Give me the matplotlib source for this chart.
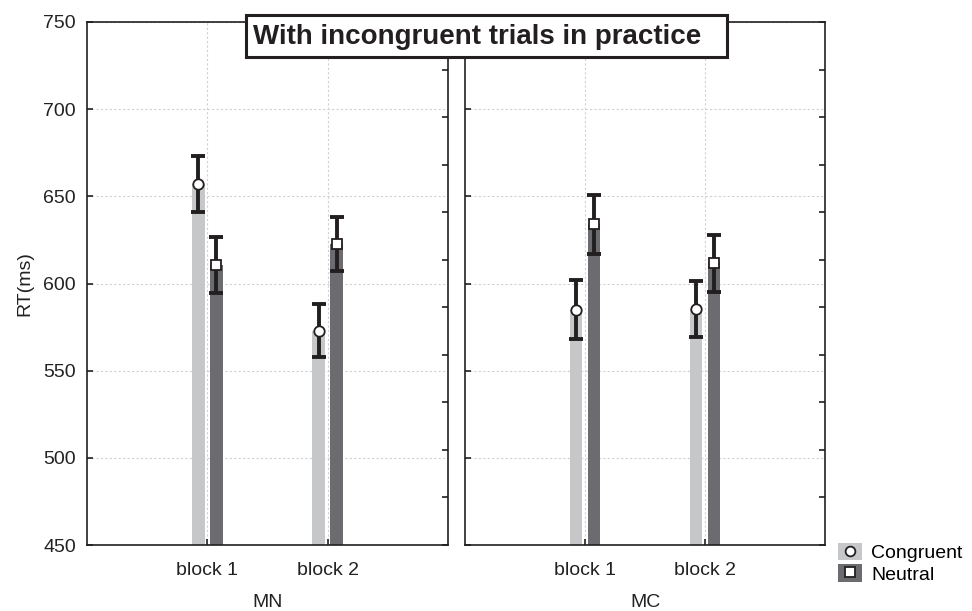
import matplotlib
matplotlib.use("Agg")
import matplotlib.pyplot as plt
import numpy as np
from matplotlib.patches import Patch, Rectangle
from matplotlib.lines import Line2D
from matplotlib.legend_handler import HandlerTuple

plt.rcParams['font.family'] = ['Liberation Sans', 'DejaVu Sans']

# ---- data ----
groups = ['MN', 'MC']
blocks = ['block 1', 'block 2']
series = ['Congruent', 'Neutral']
congruent_mean = {'MN': [657, 573], 'MC': [585, 585.5]}
congruent_err = {'MN': [16, 15], 'MC': [17, 16]}
neutral_mean = {'MN': [610.5, 622.5], 'MC': [634, 611.5]}
neutral_err = {'MN': [16, 15.5], 'MC': [17, 16.5]}
title = 'With incongruent trials in practice'
ylabel = 'RT(ms)'
yticks = [450, 500, 550, 600, 650, 700, 750]

light = '#c6c7c9'
dark = '#6b6b70'
ink = '#231f20'
txt = '#222222'
FS = 14

W, H = 972, 611
fig = plt.figure(figsize=(W / 100, H / 100), dpi=100)

def fx(px):
    return px / W

def fy(py):
    return 1 - py / H

ax_top, ax_bot = 22, 545
positions = [(87, 448), (465, 825)]
axes = []
for (l, r) in positions:
    ax = fig.add_axes([fx(l), fy(ax_bot), fx(r - l), (ax_bot - ax_top) / H])
    axes.append(ax)

x = np.arange(1, len(blocks) + 1)
bw = 0.108
off = 0.075

for i, (ax, g) in enumerate(zip(axes, groups)):
    ax.set_xlim(0, 3)
    ax.set_ylim(450, 750)
    ax.set_yticks(yticks)
    ax.set_xticks(x)
    ax.set_xticklabels(blocks, fontsize=FS, color=txt)
    ax.grid(True, linestyle=(0, (2, 2)), color='#d0d0d0', linewidth=0.8)
    ax.set_axisbelow(True)
    cm, ce = congruent_mean[g], congruent_err[g]
    nm, ne = neutral_mean[g], neutral_err[g]
    ax.bar(x - off, cm, width=bw, color=light, zorder=2)
    ax.bar(x + off, nm, width=bw, color=dark, zorder=2)
    for xs, m, e, mk in [(x - off, cm, ce, 'o'), (x + off, nm, ne, 's')]:
        ax.errorbar(xs, m, yerr=e, fmt='none', ecolor=ink, elinewidth=2.8,
                    capsize=5, capthick=2.8, zorder=3)
        ax.plot(xs, m, linestyle='none', marker=mk, markersize=7.5,
                markerfacecolor='white', markeredgecolor=ink,
                markeredgewidth=1.3, zorder=4)
    for s in ax.spines.values():
        s.set_linewidth(1.2)
        s.set_color(ink)
    ax.tick_params(axis='both', direction='in', length=4, width=1.2, color=ink,
                   labelsize=FS, labelcolor=txt)
    ax.tick_params(axis='x', pad=12)
    ax.set_xlabel(g, fontsize=FS, color=txt, labelpad=11)
    # right-side minor ticks
    sec = ax.twinx()
    sec.set_ylim(450, 750)
    sec.set_yticks(np.linspace(450, 750, 12))
    sec.tick_params(axis='y', direction='in', length=4, width=1.2, color=ink,
                    labelright=False)
    for s in sec.spines.values():
        s.set_visible(False)
    if i == 0:
        ax.set_ylabel(ylabel, fontsize=FS, color=txt, labelpad=7)
        ax.tick_params(axis='y', pad=8)
    else:
        ax.tick_params(axis='y', labelleft=False)

# title box
fig.add_artist(Rectangle((fx(246), fy(57)), fx(727) - fx(246), (57 - 15) / H,
                         transform=fig.transFigure, facecolor='white',
                         edgecolor=ink, linewidth=2.2, zorder=10))
fig.text(fx(253), fy(37), title, fontsize=20, fontweight='bold', color=ink,
         ha='left', va='center', zorder=11)

# legend
handles = [
    (Patch(facecolor=light, edgecolor='none'),
     Line2D([], [], linestyle='none', marker='o', markersize=7,
            markerfacecolor='white', markeredgecolor=ink, markeredgewidth=1.3)),
    (Patch(facecolor=dark, edgecolor='none'),
     Line2D([], [], linestyle='none', marker='s', markersize=7,
            markerfacecolor='white', markeredgecolor=ink, markeredgewidth=1.3)),
]
fig.legend(handles, series, handler_map={tuple: HandlerTuple(ndivide=1, pad=0)},
           loc='upper left', bbox_to_anchor=(fx(838), fy(543)), frameon=False,
           fontsize=FS, handlelength=1.25, handleheight=1.0, handletextpad=0.45,
           labelspacing=0.1, borderaxespad=0, borderpad=0)

fig.savefig('out.png', dpi=100)
